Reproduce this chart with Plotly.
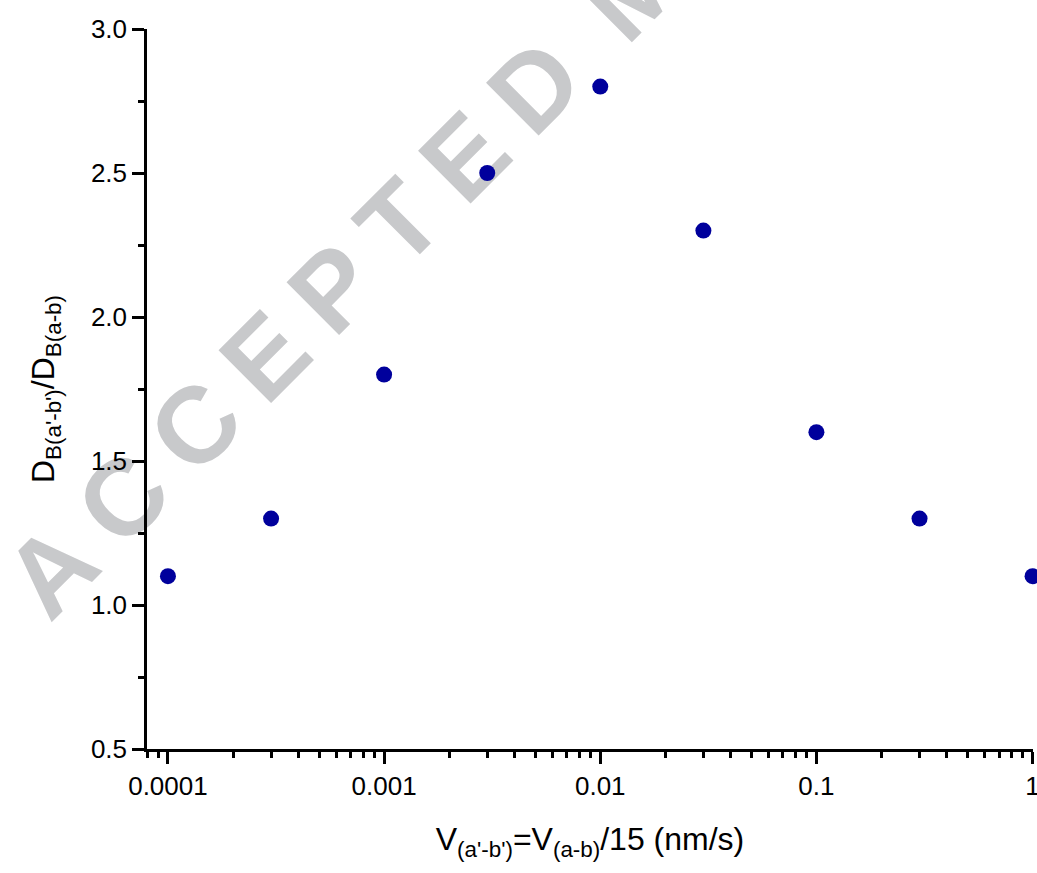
import numpy as np
import plotly.graph_objects as go

# data
velocity = [0.0001, 0.0003, 0.001, 0.003, 0.01, 0.03, 0.1, 0.3, 1]
ratio = [1.1, 1.3, 1.8, 2.5, 2.8, 2.3, 1.6, 1.3, 1.1]

x_tickvals = [0.0001, 0.001, 0.01, 0.1, 1]
x_ticktext = ["0.0001", "0.001", "0.01", "0.1", "1"]
y_tickvals = [0.5, 1.0, 1.5, 2.0, 2.5, 3.0]
y_ticktext = ["0.5", "1.0", "1.5", "2.0", "2.5", "3.0"]

FONT = "Liberation Sans, Arial, sans-serif"

fig = go.Figure()
fig.add_trace(go.Scatter(
    x=velocity, y=ratio, mode="markers",
    marker=dict(size=16, color="#00009C", line=dict(width=0)),
    cliponaxis=False, showlegend=False,
))

axis_common = dict(
    showline=True, linecolor="black", linewidth=2.5,
    ticks="outside", tickcolor="black", tickwidth=2.5, ticklen=12,
    showgrid=False, zeroline=False, mirror=False,
    ticklabeloverflow="allow",
    tickfont=dict(family=FONT, size=26, color="black"),
)

fig.update_xaxes(
    type="log", range=[np.log10(8e-5), 0.002],
    tickvals=x_tickvals, ticktext=x_ticktext,
    minor=dict(ticks="outside", ticklen=6, tickwidth=2.5, tickcolor="black", dtick="D1", showgrid=False),
    title=dict(text="V<sub>(a'-b')</sub>=V<sub>(a-b)</sub>/15 (nm/s)",
               font=dict(family=FONT, size=32, color="black"), standoff=28),
    **axis_common,
)
fig.update_yaxes(
    range=[0.5, 3.0],
    tickvals=y_tickvals, ticktext=y_ticktext,
    minor=dict(ticks="outside", ticklen=6, tickwidth=2.5, tickcolor="black", dtick=0.25, showgrid=False),
    title=dict(text="D<sub>B(a'-b')</sub>/D<sub>B(a-b)</sub>",
               font=dict(family=FONT, size=32, color="black"), standoff=27),
    **axis_common,
)

# watermark drawn beneath the data (shape label, layer below)
cx, cy, h = 0.561, 1.092, 0.004
fig.add_shape(
    type="rect", xref="paper", yref="paper",
    x0=cx - h, x1=cx + h, y0=cy - h, y1=cy + h,
    line=dict(width=0), fillcolor="rgba(0,0,0,0)", layer="below",
    label=dict(
        text='<span style="letter-spacing:24px">ACCEPTED</span> '
             '<span style="letter-spacing:24px">MANUSCRIPT</span>',
        textangle=-45, textposition="middle center",
        xanchor="center", yanchor="middle",
        font=dict(family=FONT, size=108, color="#C8C9CB", weight="bold"),
    ),
)

fig.update_layout(
    width=1037, height=873,
    margin=dict(l=147, r=4, t=29, b=124, autoexpand=False),
    paper_bgcolor="white", plot_bgcolor="white",
    font=dict(family=FONT),
)

fig.write_html(
    "out.html",
    config={"displayModeBar": False},
    post_script="document.body.style.margin='0';document.body.style.overflow='hidden';",
)
